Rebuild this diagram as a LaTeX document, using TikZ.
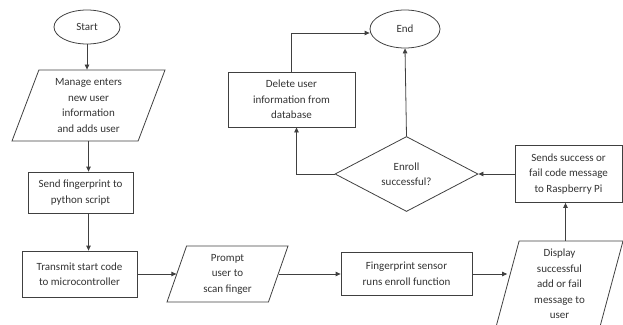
\documentclass[tikz,border=0pt]{standalone}
\usepackage{fontspec}
\setmainfont{Carlito}
\usepackage{tikz}
\usetikzlibrary{shapes.geometric,arrows.meta}

\begin{document}
\begin{tikzpicture}[x=1pt,y=-1pt,
		every node/.style={font=\fontsize{11}{15.5}\selectfont, text=black!80, align=center, inner sep=2pt},
		terminal/.style={ellipse, draw=black!75, line width=0.8pt},
		process/.style={rectangle, draw=black!75, line width=0.8pt},
		inout/.style={trapezium, trapezium stretches body, draw=black!75, line width=0.8pt},
		decision/.style={diamond, draw=black!75, line width=0.8pt, inner sep=0pt},
		flow/.style={draw=black!75, line width=0.8pt, -{Triangle[length=5pt,width=4.5pt]}}]
		%\draw[help lines] (0,0) grid (623,324);
		\useasboundingbox (0,0) rectangle (623,324);

		\node[terminal, minimum width=66, minimum height=34] (start) at (87,27) {Start};
		\node[inout, trapezium left angle=65, trapezium right angle=115,
		minimum width=153, minimum height=71] (manage) at (88.5,105.5)
		{Manage enters\\new user\\information\\and adds user};
		\node[process, minimum width=105, minimum height=41] (send) at (80.5,192.5)
		{Send fingerprint to\\python script};
		\node[process, minimum width=115, minimum height=46] (transmit) at (79.5,274)
		{Transmit start code\\to microcontroller};

		\node[inout, trapezium left angle=66, trapezium right angle=114,
		minimum width=121, minimum height=56] (prompt) at (227.5,274)
		{Prompt\\user to\\scan finger};
		\node[process, minimum width=131, minimum height=43] (sensor) at (406.5,274)
		{Fingerprint sensor\\runs enroll function};
		\node[inout, trapezium left angle=72.6, trapezium right angle=107.4,
		minimum width=127, minimum height=86] (display) at (559.5,284)
		{Display\\successful\\add or fail\\message to\\user};

		\node[process, minimum width=107, minimum height=57] (sends) at (568.5,174)
		{Sends success or\\fail code message\\to Raspberry Pi};
		\node[decision, minimum width=143, minimum height=75] (enroll) at (406.5,174)
		{Enroll\\successful?};
		\node[process, minimum width=127, minimum height=55] (delete) at (291.5,99.5)
		{Delete user\\information from\\database};
		\node[terminal, minimum width=70, minimum height=38] (end) at (405,29) {End};

		\draw[flow] (start) -- (start |- manage.north);
		\draw[flow] (manage.south) -- (manage.south |- send.north);
		\draw[flow] (manage.south |- send.south) -- (manage.south |- transmit.north);
		\draw[flow] (transmit.east) -- (transmit.east -| prompt.west);
		\draw[flow] (prompt.east) -- (prompt.east -| sensor.west);
		\draw[flow] (sensor.east) -- (sensor.east -| display.west);
		\draw[flow] ([xshift=-3pt]sends.south |- display.north) -- ([xshift=-3pt]sends.south);
		\draw[flow] (sends.west) -- (enroll.east);
		\draw[flow] (enroll.north) -- (end.south);
		\draw[flow] (enroll.west) -| ([xshift=5pt]delete.south);
		\draw[flow] (delete.north) |- ([yshift=-4pt]end.west);
\end{tikzpicture}
\end{document}
